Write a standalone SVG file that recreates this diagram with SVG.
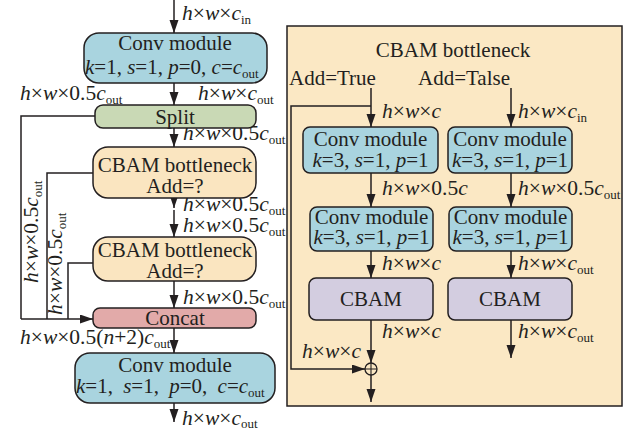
<svg xmlns="http://www.w3.org/2000/svg" width="628" height="432" viewBox="0 0 628 432">
<style>
.t{font-family:"Liberation Serif","Times New Roman",serif;font-size:21px;fill:#231f20}
.l{font-family:"Liberation Serif","Times New Roman",serif;font-size:21.5px;fill:#231f20}
.i{font-style:italic}
.s{font-size:13px;font-style:normal}
.m{text-anchor:middle}
.e{text-anchor:end}
.bx{stroke:#231f20;stroke-width:1.5}
.blue{fill:#a9d4df}
.green{fill:#c9d9b5}
.cream{fill:#fae5c0}
.pink{fill:#e2aaa9}
.lav{fill:#d3cde0}
.c{fill:none;stroke:#231f20;stroke-width:1.5}
.a{marker-end:url(#ah)}
</style>
<defs>
<marker id="ah" markerUnits="userSpaceOnUse" markerWidth="14" markerHeight="10" refX="13" refY="4.5" orient="auto">
<path d="M0,0 L13,4.5 L0,9 Z" fill="#231f20"/>
</marker>
</defs>
<rect width="628" height="432" fill="#ffffff"/>

<g id="panel">
<rect x="287" y="26" width="335" height="380" fill="#fbe8c4" stroke="#231f20" stroke-width="1.5"/>
<text class="t m" x="453" y="57">CBAM bottleneck</text>
<text class="t" x="289" y="85">Add=True</text>
<text class="t" x="418" y="85">Add=Talse</text>
</g>

<g id="connectors">
<line class="c a" x1="174" y1="0" x2="174" y2="33"/>
<line class="c a" x1="174" y1="83" x2="174" y2="105"/>
<line class="c a" x1="174" y1="128" x2="174" y2="147"/>
<line class="c a" x1="174" y1="198" x2="174" y2="208"/>
<line class="c a" x1="174" y1="210" x2="174" y2="237"/>
<line class="c a" x1="174" y1="281" x2="174" y2="308"/>
<line class="c a" x1="174" y1="328" x2="174" y2="353"/>
<line class="c a" x1="174" y1="403" x2="174" y2="422"/>
<polyline class="c" points="95,116 21,116 21,319"/>
<polyline class="c" points="93,173 47,173 47,319"/>
<polyline class="c" points="93,263 68,263 68,319"/>
<line class="c a" x1="21" y1="319" x2="93" y2="319"/>
<line class="c a" x1="371" y1="88" x2="371" y2="127"/>
<polyline class="c a" points="371,106 291,106 291,369 365,369"/>
<line class="c a" x1="371" y1="173" x2="371" y2="207"/>
<line class="c a" x1="371" y1="251" x2="371" y2="278"/>
<line class="c a" x1="371" y1="320" x2="371" y2="363"/>
<line class="c a" x1="371" y1="375" x2="371" y2="402"/>
<line class="c a" x1="511" y1="88" x2="511" y2="127"/>
<line class="c a" x1="511" y1="173" x2="511" y2="207"/>
<line class="c a" x1="511" y1="251" x2="511" y2="278"/>
<line class="c a" x1="511" y1="320" x2="511" y2="358"/>
</g>

<g id="labels">
<text class="l" x="182" y="20"><tspan class="i">h</tspan>×<tspan class="i">w</tspan>×<tspan class="i">c</tspan><tspan class="s" dy="4">in</tspan></text>
<text class="l" x="20" y="100"><tspan class="i">h</tspan>×<tspan class="i">w</tspan>×0.5<tspan class="i">c</tspan><tspan class="s" dy="4">out</tspan></text>
<text class="l" x="198" y="100"><tspan class="i">h</tspan>×<tspan class="i">w</tspan>×<tspan class="i">c</tspan><tspan class="s" dy="4">out</tspan></text>
<text class="l" x="183" y="140"><tspan class="i">h</tspan>×<tspan class="i">w</tspan>×0.5<tspan class="i">c</tspan><tspan class="s" dy="4">out</tspan></text>
<text class="l" x="183" y="211"><tspan class="i">h</tspan>×<tspan class="i">w</tspan>×0.5<tspan class="i">c</tspan><tspan class="s" dy="4">out</tspan></text>
<text class="l" x="183" y="232"><tspan class="i">h</tspan>×<tspan class="i">w</tspan>×0.5<tspan class="i">c</tspan><tspan class="s" dy="4">out</tspan></text>
<text class="l" x="183" y="304"><tspan class="i">h</tspan>×<tspan class="i">w</tspan>×0.5<tspan class="i">c</tspan><tspan class="s" dy="4">out</tspan></text>
<text class="l" x="20" y="344"><tspan class="i">h</tspan>×<tspan class="i">w</tspan>×0.5(<tspan class="i">n</tspan>+2)<tspan class="i">c</tspan><tspan class="s" dy="4">out</tspan></text>
<text class="l" x="182" y="425"><tspan class="i">h</tspan>×<tspan class="i">w</tspan>×<tspan class="i">c</tspan><tspan class="s" dy="3">out</tspan></text>
<text class="l" transform="translate(38,283) rotate(-90)"><tspan class="i">h</tspan>×<tspan class="i">w</tspan>×0.5<tspan class="i">c</tspan><tspan class="s" dy="4">out</tspan></text>
<text class="l" transform="translate(62,315) rotate(-90)"><tspan class="i">h</tspan>×<tspan class="i">w</tspan>×0.5<tspan class="i">c</tspan><tspan class="s" dy="4">out</tspan></text>
<text class="l" x="382" y="118"><tspan class="i">h</tspan>×<tspan class="i">w</tspan>×<tspan class="i">c</tspan></text>
<text class="l" x="518" y="118"><tspan class="i">h</tspan>×<tspan class="i">w</tspan>×<tspan class="i">c</tspan><tspan class="s" dy="4">in</tspan></text>
<text class="l" x="382" y="195"><tspan class="i">h</tspan>×<tspan class="i">w</tspan>×0.5<tspan class="i">c</tspan></text>
<text class="l" x="518" y="195"><tspan class="i">h</tspan>×<tspan class="i">w</tspan>×0.5<tspan class="i">c</tspan><tspan class="s" dy="4">out</tspan></text>
<text class="l" x="382" y="270"><tspan class="i">h</tspan>×<tspan class="i">w</tspan>×<tspan class="i">c</tspan></text>
<text class="l" x="518" y="270"><tspan class="i">h</tspan>×<tspan class="i">w</tspan>×<tspan class="i">c</tspan><tspan class="s" dy="4">out</tspan></text>
<text class="l" x="382" y="338"><tspan class="i">h</tspan>×<tspan class="i">w</tspan>×<tspan class="i">c</tspan></text>
<text class="l" x="518" y="338"><tspan class="i">h</tspan>×<tspan class="i">w</tspan>×<tspan class="i">c</tspan><tspan class="s" dy="4">out</tspan></text>
<text class="l" x="302" y="358"><tspan class="i">h</tspan>×<tspan class="i">w</tspan>×<tspan class="i">c</tspan></text>
</g>

<g id="conv-top">
<rect class="bx blue" x="84" y="33" width="183" height="50" rx="15"/>
<text class="t m" x="175" y="50">Conv module</text>
<text class="t" x="85" y="74"><tspan class="i">k</tspan>=1, <tspan class="i">s</tspan>=1, <tspan class="i">p</tspan>=0, <tspan class="i">c</tspan>=<tspan class="i">c</tspan><tspan class="s" dy="4">out</tspan></text>
</g>

<g id="split">
<rect class="bx green" x="95" y="105" width="161" height="23" rx="8"/>
<text class="t m" x="175" y="124">Split</text>
</g>

<g id="cbam-bottleneck-1">
<rect class="bx cream" x="93" y="147" width="163" height="51" rx="15"/>
<text class="t m" x="175" y="172">CBAM bottleneck</text>
<text class="t m" x="175" y="193">Add=?</text>
</g>

<g id="cbam-bottleneck-2">
<rect class="bx cream" x="93" y="237" width="163" height="44" rx="15"/>
<text class="t m" x="175" y="257">CBAM bottleneck</text>
<text class="t m" x="175" y="278">Add=?</text>
</g>

<g id="concat">
<rect class="bx pink" x="93" y="308" width="163" height="20" rx="7"/>
<text class="t m" x="175" y="325">Concat</text>
</g>

<g id="conv-bottom">
<rect class="bx blue" x="75" y="353" width="200" height="50" rx="15"/>
<text class="t m" x="175" y="372">Conv module</text>
<text class="t" x="76" y="393" word-spacing="5"><tspan class="i">k</tspan>=1, <tspan class="i">s</tspan>=1, <tspan class="i">p</tspan>=0, <tspan class="i">c</tspan>=<tspan class="i">c</tspan><tspan class="s" dy="4">out</tspan></text>
</g>

<g id="conv-l1">
<rect class="bx blue" x="303" y="127" width="135" height="46" rx="7"/>
<text class="t m" x="370.5" y="146">Conv module</text>
<text class="t m" x="370.5" y="167"><tspan class="i">k</tspan>=3, <tspan class="i">s</tspan>=1, <tspan class="i">p</tspan>=1</text>
</g>
<g id="conv-r1">
<rect class="bx blue" x="448" y="127" width="124" height="46" rx="7"/>
<text class="t m" x="510" y="146">Conv module</text>
<text class="t m" x="510" y="167"><tspan class="i">k</tspan>=3, <tspan class="i">s</tspan>=1, <tspan class="i">p</tspan>=1</text>
</g>
<g id="conv-l2">
<rect class="bx blue" x="310" y="207" width="123" height="44" rx="7"/>
<text class="t m" x="371.5" y="224">Conv module</text>
<text class="t m" x="371.5" y="244"><tspan class="i">k</tspan>=3, <tspan class="i">s</tspan>=1, <tspan class="i">p</tspan>=1</text>
</g>
<g id="conv-r2">
<rect class="bx blue" x="449" y="207" width="123" height="44" rx="7"/>
<text class="t m" x="510.5" y="224">Conv module</text>
<text class="t m" x="510.5" y="244"><tspan class="i">k</tspan>=3, <tspan class="i">s</tspan>=1, <tspan class="i">p</tspan>=1</text>
</g>
<g id="cbam-l">
<rect class="bx lav" x="309" y="278" width="124" height="42" rx="7"/>
<text class="t m" x="371" y="306">CBAM</text>
</g>
<g id="cbam-r">
<rect class="bx lav" x="448" y="278" width="124" height="42" rx="7"/>
<text class="t m" x="510" y="306">CBAM</text>
</g>
<g id="add">
<circle cx="371" cy="369" r="6" fill="none" stroke="#231f20" stroke-width="1.3"/>
<path d="M365,369 H377 M371,363 V375" stroke="#231f20" stroke-width="1.1" fill="none"/>
</g>
</svg>
